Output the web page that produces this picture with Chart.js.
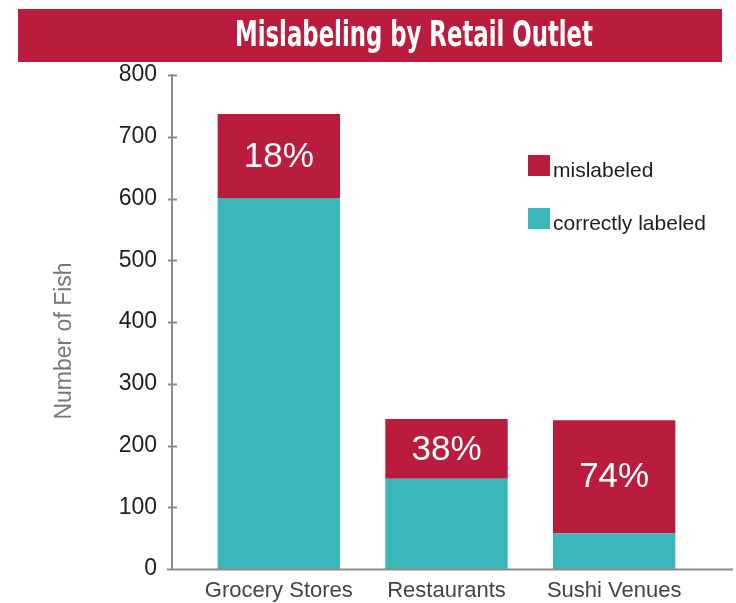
<!DOCTYPE html>
<html>
<head>
<meta charset="utf-8">
<script src="https://cdn.jsdelivr.net/npm/chart.js@4.4.1/dist/chart.umd.min.js"></script>
<style>
html, body { margin: 0; padding: 0; background: #fff; }
#wrap { width: 736px; height: 603px; position: relative; }
</style>
</head>
<body>
<div id="wrap"><canvas id="grafica"></canvas></div>
<script>
// datos
const categorias = ['Grocery Stores', 'Restaurants', 'Sushi Venues'];
const correctos = [601, 146, 58];
const malEtiquetados = [136, 97, 183];
const porcentajes = ['18%', '38%', '74%'];
const yMin = 0;
const yMax = 800;
const yPaso = 100;

const titulo = 'Mislabeling by Retail Outlet';
const tituloEjeY = 'Number of Fish';
const rojo = '#ba1c3e';
const turquesa = '#3bb6b9';
const gris = '#8c8c8c';
const fuente = '"Liberation Sans", Arial, sans-serif';

// banner, ejes a mano, leyenda y porcentajes
const decoracion = {
    id: 'decoracion',
    beforeDraw(chart) {
        const ctx = chart.ctx;
        ctx.save();
        ctx.fillStyle = rojo;
        ctx.fillRect(18, 9, 704, 53);
        ctx.fillStyle = '#fff';
        ctx.font = 'bold 36px "DejaVu Sans Condensed", "DejaVu Sans", sans-serif';
        ctx.textAlign = 'center';
        ctx.textBaseline = 'alphabetic';
        // letra condensada: se estira el texto al ancho del original
        const ancho = ctx.measureText(titulo).width;
        ctx.translate(414, 46);
        ctx.scale(358 / ancho, 1);
        ctx.fillText(titulo, 0, 0);
        ctx.restore();
    },
    afterDraw(chart) {
        const ctx = chart.ctx;
        const area = chart.chartArea;
        const y = chart.scales.y;
        const ejeX = 172;
        ctx.save();

        // eje y con marcas
        ctx.strokeStyle = gris;
        ctx.lineWidth = 2;
        ctx.beginPath();
        ctx.moveTo(ejeX, y.getPixelForValue(yMax) - 1);
        ctx.lineTo(ejeX, area.bottom);
        y.ticks.forEach(t => {
            const py = Math.round(y.getPixelForValue(t.value)) + 0.5;
            ctx.moveTo(ejeX - 4, py);
            ctx.lineTo(ejeX + 5, py);
        });
        // eje x
        ctx.moveTo(ejeX - 5, area.bottom + 0.5);
        ctx.lineTo(733, area.bottom + 0.5);
        ctx.stroke();

        // titulo del eje y
        ctx.save();
        ctx.translate(65, 341);
        ctx.rotate(-Math.PI / 2);
        ctx.fillStyle = '#777';
        ctx.font = '23px ' + fuente;
        ctx.textAlign = 'center';
        ctx.textBaseline = 'middle';
        ctx.fillText(tituloEjeY, 0, 0);
        ctx.restore();

        // porcentajes dentro de la parte roja
        ctx.fillStyle = '#fff';
        ctx.font = '35px ' + fuente;
        ctx.textAlign = 'center';
        ctx.textBaseline = 'middle';
        chart.getDatasetMeta(1).data.forEach((barra, i) => {
            const p = barra.getProps(['x', 'y', 'base'], true);
            ctx.fillText(porcentajes[i], p.x, (p.y + p.base) / 2 + 1);
        });

        // leyenda
        const items = chart.data.datasets.slice().reverse();
        ctx.font = '21px ' + fuente;
        ctx.textAlign = 'left';
        ctx.textBaseline = 'middle';
        items.forEach((ds, i) => {
            const top = 155 + i * 53;
            ctx.fillStyle = ds.backgroundColor;
            ctx.fillRect(528, top, 22, 21);
            ctx.fillStyle = '#1e1e1e';
            ctx.fillText(ds.label, 553, top + 16);
        });
        ctx.restore();
    }
};

let canva = document.getElementById('grafica').getContext('2d');

var chart = new Chart(canva, {
    type: 'bar',
    data: {
        labels: categorias,
        datasets: [
            {
                label: 'correctly labeled',
                data: correctos,
                backgroundColor: turquesa,
                barPercentage: 0.73,
                categoryPercentage: 1
            },
            {
                label: 'mislabeled',
                data: malEtiquetados,
                backgroundColor: rojo,
                barPercentage: 0.73,
                categoryPercentage: 1
            }
        ]
    },
    options: {
        responsive: true,
        maintainAspectRatio: false,
        animation: false,
        layout: {
            padding: { top: 75, right: 38, bottom: 0, left: 0 }
        },
        plugins: {
            legend: { display: false },
            title: { display: false },
            tooltip: { enabled: false }
        },
        scales: {
            x: {
                stacked: true,
                offset: true,
                grid: { display: false, drawTicks: false },
                border: { display: false },
                ticks: {
                    color: '#444',
                    padding: 9,
                    maxRotation: 0,
                    font: { family: fuente, size: 22 }
                },
                afterFit(scale) { scale.height = 34; }
            },
            y: {
                stacked: true,
                min: yMin,
                max: yMax,
                grid: { display: false, drawTicks: false },
                border: { display: false },
                ticks: {
                    stepSize: yPaso,
                    color: '#1e1e1e',
                    padding: 38,
                    font: { family: fuente, size: 23 }
                },
                afterFit(scale) {
                    scale.width = 195;
                    // el padding de las etiquetas no debe empujar el area del grafico
                    scale.paddingTop = 12;
                    scale.paddingBottom = 12;
                }
            }
        }
    },
    plugins: [decoracion]
});
</script>
</body>
</html>
